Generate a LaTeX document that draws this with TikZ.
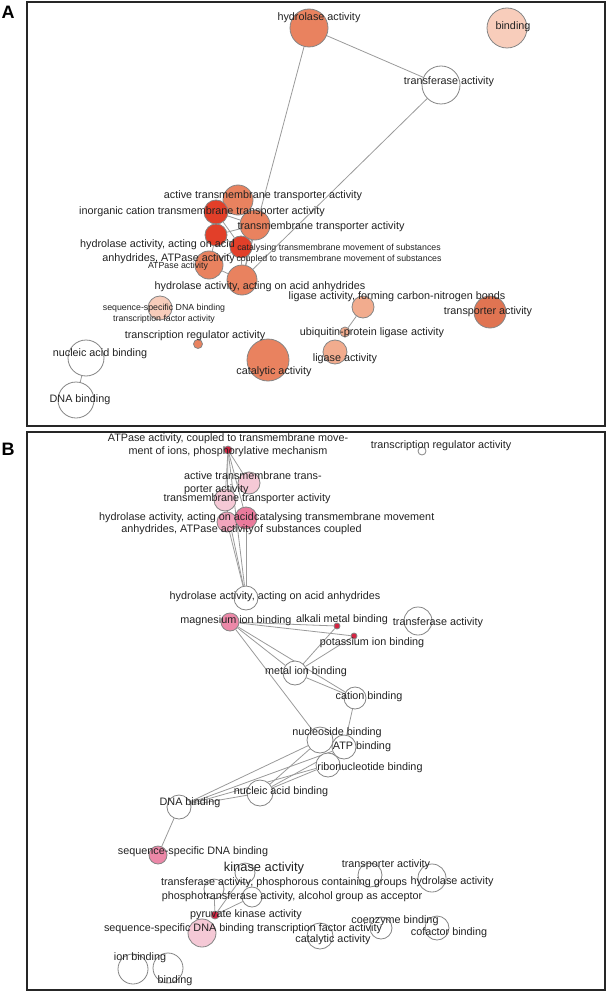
\documentclass[tikz,border=0pt]{standalone}
\usepackage{fontspec}
\setmainfont{Liberation Sans}
\usetikzlibrary{backgrounds}
\definecolor{edgegray}{HTML}{9A9A9A}
\definecolor{rimgray}{HTML}{858585}
\definecolor{txtgray}{HTML}{222222}
\definecolor{asalmon}{HTML}{E9825F}
\definecolor{ared}{HTML}{E23F29}
\definecolor{alight}{HTML}{F2AC8E}
\definecolor{apale}{HTML}{F8CDBB}
\definecolor{adeep}{HTML}{E07452}
\definecolor{bpink}{HTML}{EC88A8}
\definecolor{bsoft}{HTML}{F2A6BE}
\definecolor{bpale}{HTML}{F5C9D6}
\definecolor{bmid}{HTML}{E97A9C}
\definecolor{bred}{HTML}{D42442}
\tikzset{
  go/.style={circle, draw=rimgray, line width=0.8pt, fill=white, inner sep=0pt},
  lb/.style={font=\fontsize{10.8}{12.5}\selectfont, text=txtgray, inner sep=0pt, align=center},
  lbs/.style={font=\fontsize{8.8}{11}\selectfont, text=txtgray, inner sep=0pt, align=center},
  lbk/.style={font=\fontsize{12.9}{14}\selectfont, text=txtgray, inner sep=0pt},
  ov/.style={draw=edgegray, line width=0.8pt},
  panel/.style={draw=black!85, line width=1.3pt},
  tag/.style={font=\fontsize{18}{18}\selectfont\bfseries, inner sep=0pt},
}
\begin{document}
\begin{tikzpicture}[x=1pt, y=-1pt]
\useasboundingbox (0,0) rectangle (607,992);
\draw[panel] (27,2) rectangle (605,426);
\draw[panel] (27,432) rectangle (605,990);
\node[tag] (tagA) at (8,12) {A};
\node[tag] (tagB) at (8,449) {B};

\node[go, fill=asalmon, minimum size=38pt] (hyd) at (309,28) {};
\node[go, fill=apale, minimum size=40pt] (bnd) at (507,28) {};
\node[go, minimum size=38pt] (trf) at (441,85) {};
\node[go, fill=asalmon, minimum size=30pt] (atta) at (238,200) {};
\node[go, fill=ared, minimum size=24pt] (icta) at (216,212) {};
\node[go, fill=asalmon, minimum size=30pt] (tta) at (255,225) {};
\node[go, fill=ared, minimum size=22pt] (hatp) at (216,235) {};
\node[go, fill=ared, minimum size=22pt] (ctm) at (241,247) {};
\node[go, fill=asalmon, minimum size=28pt] (atp) at (209,265) {};
\node[go, fill=asalmon, minimum size=30pt] (haaa) at (242,280) {};
\node[go, fill=apale, minimum size=24pt] (sdtf) at (160,308) {};
\node[go, fill=asalmon, minimum size=9pt] (tra) at (198,344) {};
\node[go, fill=asalmon, minimum size=42pt] (cat) at (268,360) {};
\node[go, fill=alight, minimum size=22pt] (lcn) at (363,307) {};
\node[go, fill=alight, minimum size=10pt] (upl) at (345,332) {};
\node[go, fill=alight, minimum size=24pt] (lig) at (335,352) {};
\node[go, fill=adeep, minimum size=32pt] (tpa) at (490,312) {};
\node[go, minimum size=36pt] (nab) at (86,358) {};
\node[go, minimum size=36pt] (dnab) at (76,400) {};

\node[go, fill=bred, minimum size=8pt] (apc) at (228,450) {};
\node[go, minimum size=8pt] (trg) at (422,451) {};
\node[go, fill=bpale, minimum size=22pt] (atb) at (249,483) {};
\node[go, fill=bpale, minimum size=22pt] (ttb) at (225,500) {};
\node[go, fill=bsoft, minimum size=20pt] (hab) at (227,522) {};
\node[go, fill=bmid, minimum size=22pt] (ctb) at (246,518) {};
\node[go, minimum size=24pt] (hxb) at (246,598) {};
\node[go, fill=bpink, minimum size=18pt] (mgb) at (230,622) {};
\node[go, fill=bred, minimum size=6pt] (akb) at (337,626) {};
\node[go, fill=bred, minimum size=6pt] (kib) at (354,636) {};
\node[go, minimum size=28pt] (tfb) at (418,621) {};
\node[go, minimum size=24pt] (mib) at (295,673) {};
\node[go, minimum size=22pt] (cab) at (355,698) {};
\node[go, minimum size=26pt] (nsb) at (320,740) {};
\node[go, minimum size=24pt] (atpb) at (344,747) {};
\node[go, minimum size=24pt] (rnb) at (328,765) {};
\node[go, minimum size=26pt] (nabb) at (260,793) {};
\node[go, minimum size=24pt] (dnb) at (179,807) {};
\node[go, fill=bpink, minimum size=18pt] (ssb) at (158,855) {};
\node[go, minimum size=20pt] (kin) at (245,873) {};
\node[go, minimum size=20pt] (tpc) at (214,889) {};
\node[go, minimum size=20pt] (pta) at (252,897) {};
\node[go, fill=bred, minimum size=8pt] (pyr) at (215,915) {};
\node[go, fill=bpale, minimum size=28pt] (sst) at (202,933) {};
\node[go, minimum size=26pt] (ctb2) at (320,936) {};
\node[go, minimum size=24pt] (tpb) at (370,875) {};
\node[go, minimum size=28pt] (hyb) at (432,878) {};
\node[go, minimum size=22pt] (coe) at (381,928) {};
\node[go, minimum size=24pt] (cof) at (437,928) {};
\node[go, minimum size=30pt] (ionb) at (133,969) {};
\node[go, minimum size=30pt] (bndb) at (168,968) {};

\begin{scope}[on background layer]
\draw[ov] (hyd) -- (trf); \draw[ov] (hyd) -- (haaa); \draw[ov] (trf) -- (haaa);
\draw[ov] (atta) -- (icta); \draw[ov] (atta) -- (tta); \draw[ov] (icta) -- (tta);
\draw[ov] (icta) -- (hatp); \draw[ov] (hatp) -- (tta); \draw[ov] (hatp) -- (ctm);
\draw[ov] (tta) -- (ctm); \draw[ov] (ctm) -- (atp); \draw[ov] (hatp) -- (atp);
\draw[ov] (atp) -- (haaa); \draw[ov] (ctm) -- (haaa); \draw[ov] (icta) -- (ctm);
\draw[ov] (tta) -- (haaa);
\draw[ov] (lcn) -- (upl); \draw[ov] (nab) -- (dnab);
\draw[ov] (apc) -- (atb); \draw[ov] (apc) -- (ttb); \draw[ov] (apc) -- (hab);
\draw[ov] (apc) -- (ctb); \draw[ov] (apc) -- (hxb); \draw[ov] (hab) -- (hxb);
\draw[ov] (ctb) -- (hxb); \draw[ov] (ttb) -- (hxb);
\draw[ov] (mgb) -- (akb); \draw[ov] (mgb) -- (kib); \draw[ov] (mgb) -- (mib);
\draw[ov] (mgb) -- (cab); \draw[ov] (mgb) -- (nsb); \draw[ov] (akb) -- (mib);
\draw[ov] (kib) -- (mib); \draw[ov] (mib) -- (cab); \draw[ov] (cab) -- (atpb);
\draw[ov] (nsb) -- (atpb); \draw[ov] (atpb) -- (rnb); \draw[ov] (nsb) -- (rnb);
\draw[ov] (nsb) -- (dnb); \draw[ov] (rnb) -- (dnb); \draw[ov] (atpb) -- (dnb);
\draw[ov] (nsb) -- (nabb); \draw[ov] (rnb) -- (nabb); \draw[ov] (atpb) -- (nabb);
\draw[ov] (nabb) -- (dnb); \draw[ov] (dnb) -- (ssb);
\draw[ov] (pyr) -- (tpc); \draw[ov] (pyr) -- (pta); \draw[ov] (pyr) -- (kin);
\end{scope}

\node[lb] (hyd-t) at (319,18) {hydrolase activity};
\node[lb] (bnd-t) at (513,27) {binding};
\node[lb] (trf-t) at (449,82) {transferase activity};
\node[lb] (atta-t) at (263,196) {active transmembrane transporter activity};
\node[lb] (icta-t) at (202,212) {inorganic cation transmembrane transporter activity};
\node[lb] (tta-t) at (321,227) {transmembrane transporter activity};
\node[lb, align=right, anchor=east, font=\fontsize{10.8}{14.4}\selectfont] (hatp-t) at (235,251.5) {hydrolase activity, acting on acid\\anhydrides, ATPase activity};
\node[lbs] (ctm-t) at (339,253.5) {catalysing transmembrane movement of substances\\coupled to transmembrane movement of substances};
\node[lbs] (atp-t) at (178,266) {ATPase activity};
\node[lb] (haaa-t) at (260,287) {hydrolase activity, acting on acid anhydrides};
\node[lbs] (sdtf-t) at (164,314) {sequence-specific DNA binding\\transcription factor activity};
\node[lb] (tra-t) at (195,336) {transcription regulator activity};
\node[lb] (cat-t) at (274,372) {catalytic activity};
\node[lb] (lcn-t) at (397,297) {ligase activity, forming carbon-nitrogen bonds};
\node[lb] (upl-t) at (372,333) {ubiquitin-protein ligase activity};
\node[lb] (lig-t) at (345,359) {ligase activity};
\node[lb] (tpa-t) at (488,312) {transporter activity};
\node[lb] (nab-t) at (100,354) {nucleic acid binding};
\node[lb] (dnab-t) at (80,400) {DNA binding};

\node[lb] (apc-t) at (228,445) {ATPase activity, coupled to transmembrane move-\\ment of ions, phosphorylative mechanism};
\node[lb] (trg-t) at (441,446) {transcription regulator activity};
\node[lb, align=left, anchor=west] (atb-t) at (184,483) {active transmembrane trans-\\porter activity};
\node[lb] (ttb-t) at (247,499) {transmembrane transporter activity};
\node[lb, align=right, anchor=east] (hab-t) at (254,523.5) {hydrolase activity, acting on acid\\anhydrides, ATPase activity};
\node[lb, align=left, anchor=west] (ctb-t) at (254,523.5) {catalysing transmembrane movement\\of substances coupled};
\node[lb] (hxb-t) at (275,597) {hydrolase activity, acting on acid anhydrides};
\node[lb] (mgb-t) at (236,621) {magnesium ion binding};
\node[lb] (akb-t) at (342,620) {alkali metal binding};
\node[lb] (kib-t) at (372,643) {potassium ion binding};
\node[lb] (tfb-t) at (438,623) {transferase activity};
\node[lb] (mib-t) at (306,672) {metal ion binding};
\node[lb] (cab-t) at (369,697) {cation binding};
\node[lb] (nsb-t) at (337,733) {nucleoside binding};
\node[lb] (atpb-t) at (362,747) {ATP binding};
\node[lb] (rnb-t) at (370,768) {ribonucleotide binding};
\node[lb] (nabb-t) at (281,792) {nucleic acid binding};
\node[lb] (dnb-t) at (190,803) {DNA binding};
\node[lb] (ssb-t) at (193,852) {sequence-specific DNA binding};
\node[lbk] (kin-t) at (264,868) {kinase activity};
\node[lb] (tpc-t) at (284,883) {transferase activity, phosphorous containing groups};
\node[lb] (pta-t) at (292,897) {phosphotransferase activity, alcohol group as acceptor};
\node[lb] (pyr-t) at (246,915) {pyruvate kinase activity};
\node[lb] (sst-t) at (243,929) {sequence-specific DNA binding transcription factor activity};
\node[lb] (ctb2-t) at (333,940) {catalytic activity};
\node[lb] (tpb-t) at (386,865) {transporter activity};
\node[lb] (hyb-t) at (452,882) {hydrolase activity};
\node[lb] (coe-t) at (395,921) {coenzyme binding};
\node[lb] (cof-t) at (449,933) {cofactor binding};
\node[lb] (ionb-t) at (140,958) {ion binding};
\node[lb] (bndb-t) at (175,981) {binding};
\end{tikzpicture}
\end{document}
